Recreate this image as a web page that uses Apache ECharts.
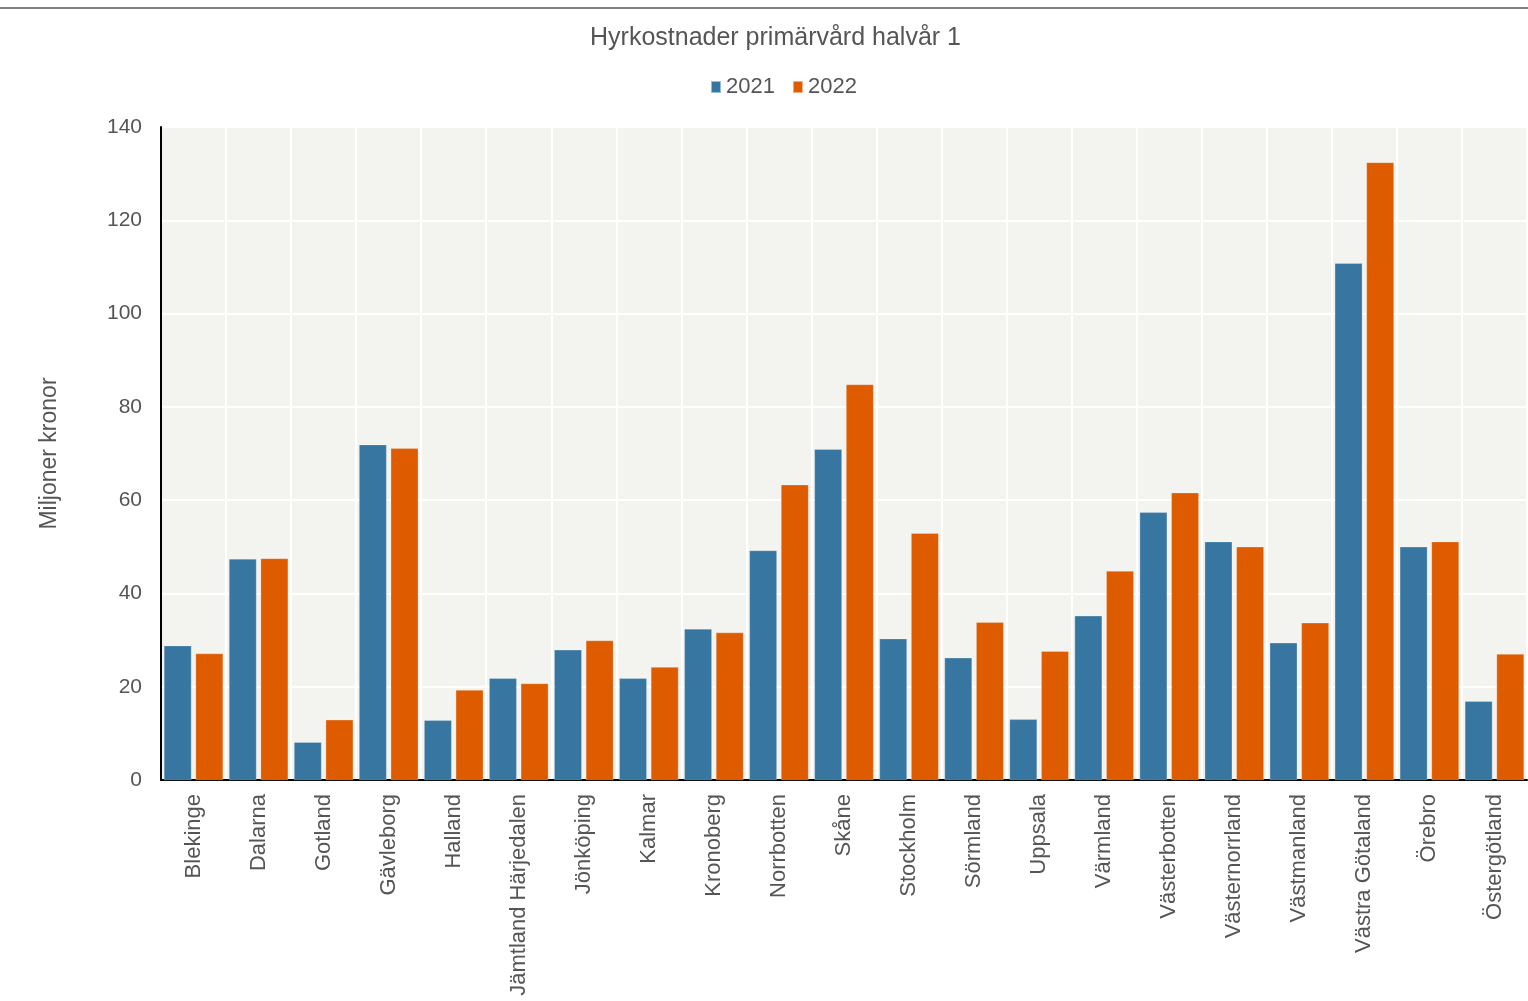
<!DOCTYPE html>
<html>
<head>
<meta charset="utf-8">
<script src="https://cdn.jsdelivr.net/npm/echarts@6/dist/echarts.min.js"></script>
<style>
  html, body { margin: 0; padding: 0; background: #fff; }
  #main { width: 1528px; height: 1001px; }
</style>
</head>
<body>
<div id="main"></div>
<script>
var myChart = echarts.init(document.getElementById('main'));

var regioner = ['Blekinge', 'Dalarna', 'Gotland', 'Gävleborg', 'Halland', 'Jämtland Härjedalen',
    'Jönköping', 'Kalmar', 'Kronoberg', 'Norrbotten', 'Skåne', 'Stockholm', 'Sörmland', 'Uppsala',
    'Värmland', 'Västerbotten', 'Västernorrland', 'Västmanland', 'Västra Götaland', 'Örebro', 'Östergötland'];
var varden2021 = [28.8, 47.4, 8.1, 71.9, 12.8, 21.8, 27.9, 21.8, 32.4, 49.2, 70.9, 30.3, 26.2, 13.0,
    35.2, 57.4, 51.1, 29.4, 110.8, 50.0, 16.9];
var varden2022 = [27.1, 47.5, 12.9, 71.1, 19.3, 20.7, 29.9, 24.2, 31.6, 63.3, 84.8, 52.9, 33.8, 27.6,
    44.8, 61.6, 50.0, 33.7, 132.4, 51.1, 27.0];
var yTicks = [0, 20, 40, 60, 80, 100, 120, 140];

var textFont = 'Liberation Sans';
var textColor = '#555555';

option = {
    backgroundColor: '#ffffff',
    color: ['#3776a0', '#de5b00'],
    title: {
        text: 'Hyrkostnader primärvård halvår 1',
        left: 590,
        top: 26,
        padding: 0,
        textStyle: { fontFamily: textFont, fontSize: 25, fontWeight: 'normal', color: textColor }
    },
    legend: {
        top: 71,
        left: 705,
        icon: 'rect',
        itemWidth: 10,
        itemHeight: 12,
        itemGap: 17,
        textStyle: { fontFamily: textFont, fontSize: 22, color: textColor },
        data: ['2021', '2022']
    },
    graphic: [{
        type: 'line',
        shape: { x1: 0, y1: 8, x2: 1528, y2: 8 },
        style: { stroke: '#000', lineWidth: 1 }
    }],
    grid: {
        left: 161,
        right: 1,
        top: 127,
        bottom: 221,
        show: true,
        backgroundColor: '#f3f3ef',
        borderWidth: 0
    },
    xAxis: {
        type: 'category',
        data: regioner,
        axisLine: { lineStyle: { color: '#000', width: 2 } },
        axisTick: { show: false },
        splitLine: { show: true, lineStyle: { color: '#ffffff', width: 2 } },
        axisLabel: {
            rotate: 90,
            interval: 0,
            margin: 14,
            fontFamily: textFont,
            fontSize: 22,
            color: textColor
        }
    },
    yAxis: {
        type: 'value',
        min: yTicks[0],
        max: yTicks[yTicks.length - 1],
        interval: 20,
        name: 'Miljoner kronor',
        nameLocation: 'middle',
        nameRotate: 90,
        nameGap: 100,
        nameTextStyle: { fontFamily: textFont, fontSize: 23, color: textColor },
        axisLine: { show: true, lineStyle: { color: '#000', width: 2 } },
        axisTick: { show: false },
        splitLine: { show: true, lineStyle: { color: '#ffffff', width: 2 } },
        axisLabel: { margin: 19, fontFamily: textFont, fontSize: 21, color: textColor }
    },
    series: [
        {
            name: '2021',
            type: 'bar',
            barGap: '15%',
            barCategoryGap: '9%',
            itemStyle: { borderColor: 'rgba(255,255,255,0.5)', borderWidth: 0.5 },
            data: varden2021
        },
        {
            name: '2022',
            type: 'bar',
            itemStyle: { borderColor: 'rgba(255,255,255,0.5)', borderWidth: 0.5 },
            data: varden2022
        }
    ]
};

myChart.setOption(option);
</script>
</body>
</html>
